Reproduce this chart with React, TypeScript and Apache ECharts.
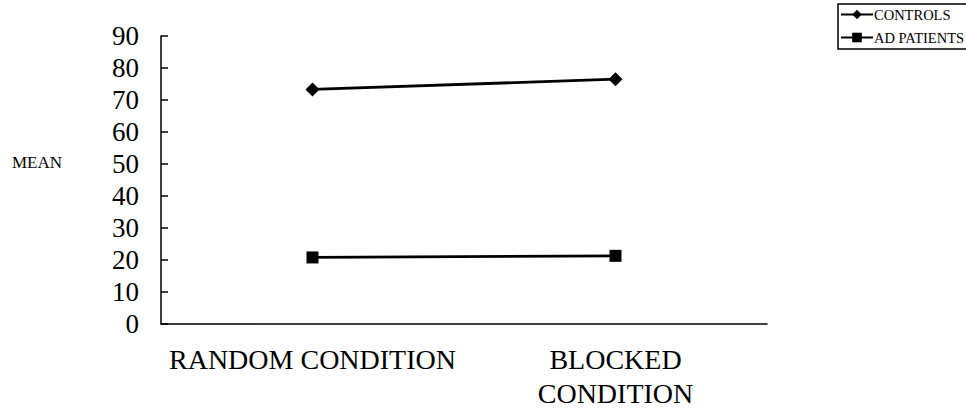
import React, { useEffect, useRef } from "react";
import * as echarts from "echarts";

const categories = ["RANDOM CONDITION", "BLOCKED\nCONDITION"];
const controls = [73.3, 76.5];
const adPatients = [20.8, 21.3];
const yTicks = { min: 0, max: 90, interval: 10 };
const yName = "MEAN";
const seriesNames = ["CONTROLS", "AD PATIENTS"];

const FONT = "'Liberation Serif', 'Times New Roman', serif";

export default function App() {
  const ref = useRef<HTMLDivElement>(null);
  useEffect(() => {
    if (!ref.current) return;
    const chart = echarts.init(ref.current, null, { renderer: "svg" });
    chart.setOption({
      animation: false,
      backgroundColor: "#ffffff",
      textStyle: { fontFamily: FONT, color: "#000" },
      grid: { left: 161, right: 199, top: 36, bottom: 86, outerBoundsMode: "none", containLabel: false },
      legend: {
        left: 838,
        top: 4,
        orient: "vertical",
        itemWidth: 32,
        itemHeight: 12,
        itemGap: 8,
        padding: [3, 30, 4, 2],
        borderColor: "#000",
        borderWidth: 1.5,
        textStyle: { fontFamily: FONT, fontSize: 14.5, color: "#000", padding: [0, 0, 0, -4] },
        data: seriesNames,
      },
      xAxis: {
        type: "category",
        data: categories,
        boundaryGap: true,
        axisLine: { lineStyle: { color: "#000", width: 1.5 } },
        axisTick: { inside: true, length: 6, lineStyle: { color: "#000", width: 1.5 } },
        axisLabel: {
          fontFamily: FONT,
          fontSize: 28,
          lineHeight: 34,
          color: "#000",
          margin: 18,
          interval: 0,
        },
      },
      yAxis: {
        type: "value",
        min: yTicks.min,
        max: yTicks.max,
        interval: yTicks.interval,
        splitLine: { show: false },
        axisLine: { show: true, lineStyle: { color: "#000", width: 1.5 } },
        axisTick: { show: true, inside: true, length: 7, lineStyle: { color: "#000", width: 1.5 } },
        axisLabel: { fontFamily: FONT, fontSize: 27, color: "#000", margin: 22 },
      },
      graphic: [
        {
          type: "text",
          left: 12,
          top: 154,
          style: { text: yName, font: `17px ${FONT}`, fill: "#000" },
        },
      ],
      series: [
        {
          name: seriesNames[0],
          type: "line",
          data: controls,
          symbol: "diamond",
          symbolSize: 14,
          lineStyle: { color: "#000", width: 2.8 },
          itemStyle: { color: "#000" },
        },
        {
          name: seriesNames[1],
          type: "line",
          data: adPatients,
          symbol: "rect",
          symbolSize: 12,
          lineStyle: { color: "#000", width: 2.8 },
          itemStyle: { color: "#000" },
        },
      ],
    });
    return () => chart.dispose();
  }, []);
  return (
    <div
      ref={ref}
      style={{ position: "fixed", left: 0, top: 0, width: 966, height: 410 }}
    />
  );
}
